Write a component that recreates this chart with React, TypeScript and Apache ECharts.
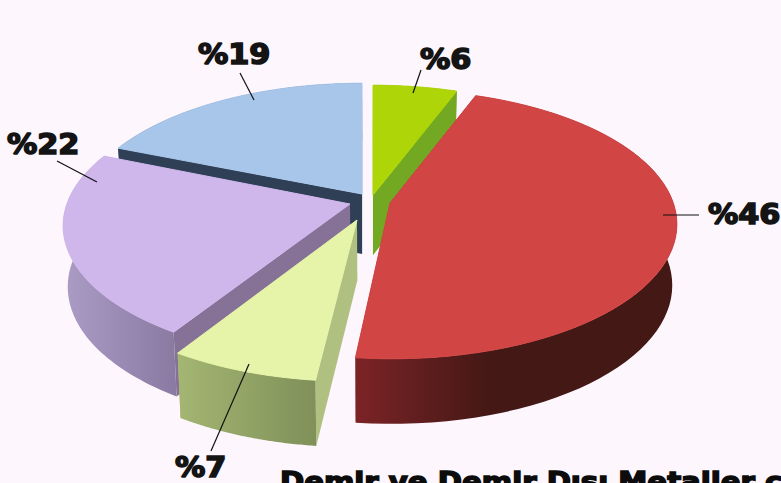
import React, { useEffect, useRef } from "react";
import * as echarts from "echarts";

const labels = ["%6", "%46", "%7", "%22", "%19"];
const shares = [5.7, 46, 7.1, 22.2, 19];
const titleText = "Demir ve Demir Dışı Metaller ç";

const topColors = ["#aed508", "#d14545", "#e5f4a8", "#cfb7ec", "#a8c6ea"];
const edgeA = ["#73a822", "#7c2326", "#a4b672", "#ab9cc6", "#2f3f55"];
const edgeB = ["#73a822", "#431815", "#7f9059", "#8a7aa2", "#2f3f55"];
const cutA = ["#73a822", "#7c2326", "#b0c080", "#857296", "#2f3f55"];
const apexX = [373, 390, 357, 350, 362];
const apexY = [195, 203, 220, 204, 194];
const rimDx = [0, 2, -5, -2, 0];
const rimDy = [0, -3.5, 2, -3, -1];
const labelX = [420, 708, 175, 7, 198];
const labelY = [73, 228, 481, 158, 68];
const leaderA = [[421, 70], [663, 215], [249, 364], [97, 182], [254, 100]];
const leaderB = [[413, 93], [699, 215], [211, 451], [57, 161], [240, 73]];
const paintOrder = [0, 4, 3, 2, 1];

const R = 280, RY = 130, K = 0.184;
const project = (i: number, deg: number) => {
  const t = (deg * Math.PI) / 180;
  const u = Math.sin(t), v = Math.cos(t), w = 1 + K * v;
  return [apexX[i] + rimDx[i] + (R * u) / w, apexY[i] + rimDy[i] - (RY * v) / w];
};
const drop = (p: number[]) => [370 + (p[0] - 370) * 0.985, p[1] + 57 + ((p[1] - 90) * 8) / 267];

export default function App() {
  const ref = useRef<HTMLDivElement>(null);
  useEffect(() => {
    const chart = echarts.init(ref.current!, undefined, { renderer: "svg" });
    const total = shares.reduce((a, b) => a + b, 0);
    const starts: number[] = [];
    let acc = 0;
    shares.forEach((s) => { starts.push((acc / total) * 360); acc += s; });

    const renderItem = (_: any, api: any) => {
      const i = api.value(0);
      const a0 = starts[i];
      const a1 = a0 + (shares[i] / total) * 360;
      const apex = [apexX[i], apexY[i]];
      const rim: number[][] = [];
      for (let n = 0; n <= 64; n++) rim.push(project(i, a0 + ((a1 - a0) * n) / 64));
      const rimBottom = rim.map(drop).reverse();
      const apexB = drop(apex);
      const first = rim[0], last = rim[rim.length - 1];
      const children: any[] = [];
      const poly = (points: number[][], fill: any) => ({
        type: "polygon", shape: { points }, style: { fill },
      });
      children.push(poly([apex, first, drop(first), apexB], cutA[i]));
      children.push(poly([apex, last, drop(last), apexB], cutA[i]));
      children.push(poly(rim.concat(rimBottom),
        new echarts.graphic.LinearGradient(0, 0, 1, 0, [
          { offset: 0, color: edgeA[i] },
          { offset: i === 1 ? 0.42 : 1, color: edgeB[i] },
          { offset: 1, color: edgeB[i] },
        ])));
      children.push({
        type: "polygon", shape: { points: [apex].concat(rim) },
        style: { fill: topColors[i], stroke: topColors[i], lineWidth: 1 },
      });
      return { type: "group", children };
    };

    const overlay = (_: any, api: any) => {
      const i = api.value(0);
      return {
        type: "group",
        children: [
          { type: "line", shape: { x1: leaderA[i][0], y1: leaderA[i][1], x2: leaderB[i][0], y2: leaderB[i][1] },
            style: { stroke: "#111", lineWidth: 1.2 } },
          { type: "text", x: labelX[i], y: labelY[i], scaleX: 1.08,
            style: { text: labels[i], fill: "#141414", stroke: "#141414", lineWidth: 1.6,
              font: "bold 28px 'DejaVu Sans'", textAlign: "left", textVerticalAlign: "bottom" } },
        ],
      };
    };

    chart.setOption({
      animation: false,
      backgroundColor: "#fdf6fd",
      series: [
        { type: "custom", coordinateSystem: "none", silent: true, renderItem, data: paintOrder.map((i) => [i]), z: 1 },
        { type: "custom", coordinateSystem: "none", silent: true, renderItem: overlay, data: paintOrder.map((i) => [i]), z: 2 },
      ],
      graphic: [{
        type: "text", x: 280, y: 468, scaleX: 1.08,
        style: { text: titleText, fill: "#0c0c0c", stroke: "#0c0c0c", lineWidth: 1.6, font: "bold 27px 'DejaVu Sans'" },
      }],
    });
    return () => chart.dispose();
  }, []);
  return <div ref={ref} style={{ position: "fixed", left: 0, top: 0, width: 781, height: 483 }} />;
}
